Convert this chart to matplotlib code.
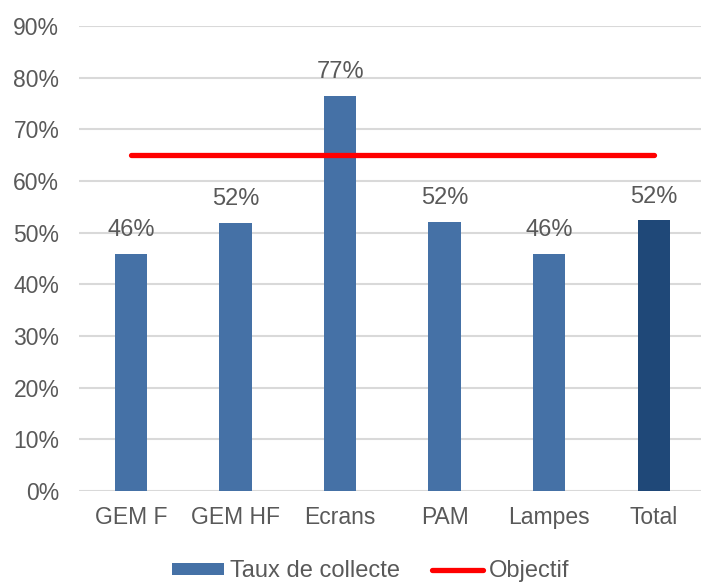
import matplotlib
matplotlib.use("Agg")
import matplotlib.pyplot as plt
from matplotlib.ticker import PercentFormatter

# données
categories = ["GEM F", "GEM HF", "Ecrans", "PAM", "Lampes", "Total"]
taux = [45.9, 51.9, 76.5, 52.1, 45.9, 52.4]
labels = ["46%", "52%", "77%", "52%", "46%", "52%"]
objectif = 65

plt.rcParams['font.family'] = ['Liberation Sans', 'DejaVu Sans']
gris = '#595959'
fs = 16.5

fig = plt.figure(figsize=(7.01, 5.83), dpi=100)
ax = fig.add_axes([0.1123, 0.1578, 0.895, 0.7976])

x = list(range(len(categories)))
couleurs = ['#4571a6'] * (len(categories) - 1) + ['#1f4878']
bars = ax.bar(x, taux, width=0.31, color=couleurs, zorder=2, label="Taux de collecte")

# ligne objectif
ligne, = ax.plot([x[0], x[-1]], [objectif, objectif], color='#ff0000', lw=3.8,
                 solid_capstyle='round', zorder=3, label="Objectif")

# étiquettes de données
for xi, v, lab in zip(x, taux, labels):
    ax.annotate(lab, (xi, v), xytext=(0, 9), textcoords='offset points',
                ha='center', va='bottom', fontsize=17, color=gris)

ax.set_xlim(-0.5, len(categories) - 0.5)
ax.set_ylim(0, 90)
ax.set_yticks(range(0, 91, 10))
ax.yaxis.set_major_formatter(PercentFormatter(decimals=0))
ax.set_xticks(x)
ax.set_xticklabels(categories)
ax.tick_params(length=0, labelsize=fs, labelcolor=gris)
ax.tick_params(axis='y', pad=14)
ax.tick_params(axis='x', pad=11)

ax.grid(axis='y', color='#d9d9d9', lw=1.5, zorder=0)
for s in ax.spines.values():
    s.set_visible(False)
ax.set_axisbelow(True)

leg = fig.legend(handles=[bars, ligne], labels=["Taux de collecte", "Objectif"],
                 loc='center', bbox_to_anchor=(0.529, 0.02), ncol=2, frameon=False,
                 fontsize=17, handlelength=2.2, handleheight=0.4,
                 columnspacing=1.35, handletextpad=0.25)
for t in leg.get_texts():
    t.set_color(gris)

fig.savefig("out.png", dpi=100)
